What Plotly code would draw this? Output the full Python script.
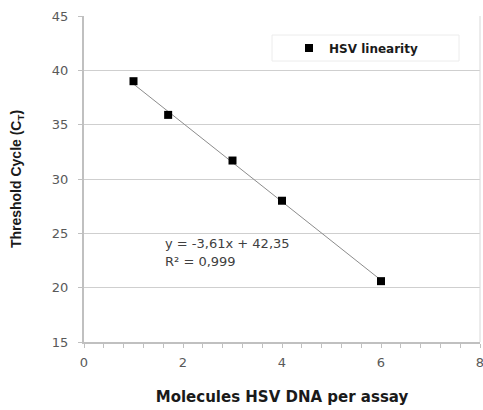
import plotly.graph_objects as go

# Data
molecules = [1.0, 1.7, 3.0, 4.0, 6.0]
ct_values = [39.0, 35.9, 31.7, 28.0, 20.6]
trend_x = [1.0, 6.0]
trend_y = [38.74, 20.69]
x_tick_values = [0, 2, 4, 6, 8]
x_tick_labels = ["0", "2", "4", "6", "8"]
series_name = "HSV linearity"
equation_text = "y = -3,61x + 42,35"
r2_text = "R² = 0,999"

WIDE = "DejaVu Sans, Verdana, sans-serif"
NARROW = "Liberation Sans, Arial, sans-serif"

W, H = 483, 410
L, R, T, B = 84, 480, 16, 342  # plot area in page pixels
PW, PH = R - L, B - T


def px(x):
    return (x - L) / PW


def py(y):
    return (B - y) / PH


fig = go.Figure()
fig.add_trace(go.Scatter(
    x=trend_x, y=trend_y, mode="lines",
    line=dict(color="#8c8c8c", width=1),
    showlegend=False, hoverinfo="skip",
))
fig.add_trace(go.Scatter(
    x=molecules, y=ct_values, mode="markers", name=series_name,
    marker=dict(symbol="square", size=8, color="black"),
))

# legend box
fig.add_shape(type="rect", xref="paper", yref="paper",
              x0=px(272), x1=px(459), y0=py(61), y1=py(35),
              line=dict(color="#ececec", width=1), fillcolor="white", layer="below")
# right border
fig.add_shape(type="line", xref="paper", yref="paper", x0=1, x1=1, y0=0, y1=1,
              line=dict(color="#d8d8d8", width=1))

fig.add_annotation(x=px(163), y=py(253), xref="paper", yref="paper",
                   text=equation_text, showarrow=False,
                   font=dict(family=WIDE, size=13, color="#404040"))
fig.add_annotation(x=px(163), y=py(271), xref="paper", yref="paper",
                   text=r2_text, showarrow=False,
                   font=dict(family=WIDE, size=13, color="#404040"))

fig.update_layout(
    width=W, height=H,
    margin=dict(l=L, r=W - R, t=T, b=H - B),
    paper_bgcolor="white", plot_bgcolor="white",
    font=dict(family=WIDE, size=13, color="#595959"),
    showlegend=True,
    legend=dict(x=px(289), y=py(48), xanchor="left", yanchor="middle",
                bgcolor="rgba(0,0,0,0)", borderwidth=0,
                font=dict(family=WIDE, size=12, color="#1a1a1a", weight="bold"),
                itemwidth=30),
    xaxis=dict(
        range=[0, 8], tickmode="array",
        tickvals=x_tick_values, ticktext=x_tick_labels,
        showgrid=False, zeroline=False, automargin=False,
        showline=True, linecolor="#c0c0c0", linewidth=2,
        ticks="outside", ticklen=4, tickcolor="#c0c0c0", tickwidth=1,
        minor=dict(dtick=0.4, tick0=0, ticks="outside", ticklen=4, tickcolor="#c0c0c0"),
        ticklabeloverflow="allow", ticklabelstandoff=3,
        title=dict(text="Molecules HSV DNA per assay", standoff=23,
                   font=dict(family=WIDE, size=15, color="#1a1a1a", weight="bold")),
        tickfont=dict(family=WIDE, size=13, color="#595959"),
    ),
    yaxis=dict(
        range=[15, 45], dtick=5,
        showgrid=True, gridcolor="#cfcfcf", gridwidth=1,
        zeroline=False, automargin=False,
        showline=True, linecolor="#c0c0c0", linewidth=2,
        ticks="outside", ticklen=4, tickcolor="#c0c0c0",
        ticklabelstandoff=7,
        title=dict(text="Threshold Cycle (C<sub>T</sub>)", standoff=27,
                   font=dict(family=NARROW, size=14, color="#1a1a1a", weight="bold")),
        tickfont=dict(family=WIDE, size=13, color="#595959"),
    ),
)

fig.write_html(
    "out.html",
    config={"displayModeBar": False},
    post_script="document.body.style.margin='0';document.body.style.overflow='hidden';",
)
